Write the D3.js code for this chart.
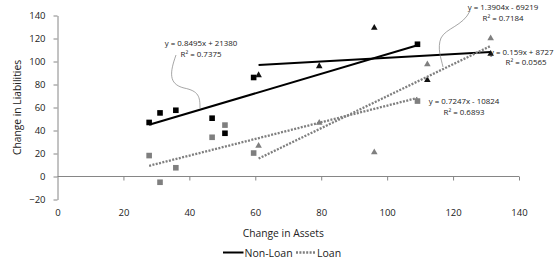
<!DOCTYPE html>
<html><head><meta charset="utf-8">
<script src="https://cdn.jsdelivr.net/npm/d3@7"></script>
<style>body{margin:0;background:#fff}svg{display:block}text{font-family:"Open Sans",sans-serif;fill:#222}</style>
</head><body><div id="chart"></div>
<script>
// Data (Change in Assets vs Change in Liabilities, thousands)
const nonLoanSqX = [27.8, 31.1, 35.9, 46.9, 50.8, 59.5, 109.2];
const nonLoanSqY = [47, 55.3, 57.6, 50.7, 37.6, 86.1, 115];
const loanSqX = [27.8, 31.1, 35.9, 46.9, 50.8, 59.5, 109.2];
const loanSqY = [18.2, -5, 7.6, 34.1, 44.7, 20.4, 65.6];
const nonLoanTriX = [61, 79.4, 96.1, 112.2, 131.4];
const nonLoanTriY = [88.4, 96.2, 129.6, 84.2, 107];
const loanTriX = [61, 79.4, 96.1, 112.2, 131.4];
const loanTriY = [27, 47, 21.3, 97.9, 120.4];
// trendline equations (raw units), as labelled in chart
const trendSlopes = [0.8495, 0.159, 0.7247, 1.3904];
const trendIntercepts = [21380, 87270, -10824, -69219];
const trendEq = ["y = 0.8495x + 21380", "y = 0.159x + 8727", "y = 0.7247x - 10824", "y = 1.3904x - 69219"];
const trendR2 = ["R² = 0.7375", "R² = 0.0565", "R² = 0.6893", "R² = 0.7184"];
const xTicks = [0, 20, 40, 60, 80, 100, 120, 140];
const yTicks = [-20, 0, 20, 40, 60, 80, 100, 120, 140];
const legendLabels = ["Non-Loan", "Loan"];

const W = 554, H = 260;
const svg = d3.select("#chart").append("svg").attr("width", W).attr("height", H);
const x = d3.scaleLinear().domain([0, 140]).range([57.5, 519]);
const y = d3.scaleLinear().domain([-20, 140]).range([199.5, 15.5]);
const axisCol = "#868686";

// Y axis
const ya = svg.append("g").attr("transform", `translate(${x(0)},0)`)
  .call(d3.axisLeft(y).tickValues(yTicks).tickSize(4).tickSizeOuter(0).tickPadding(8));
ya.selectAll("path,line").attr("stroke", axisCol);
ya.selectAll("text").attr("font-size", 9.5).attr("font-family", "Open Sans").attr("fill", "#222");

// X axis at y=0
const xa = svg.append("g").attr("transform", `translate(0,${y(0)})`)
  .call(d3.axisBottom(x).tickValues(xTicks.slice(1)).tickSize(4).tickSizeOuter(0).tickFormat(""));
xa.selectAll("path,line").attr("stroke", axisCol);
xa.select("path").attr("d", `M${x(0)},0H${x(140)}`);
// X labels at bottom
const xl = svg.append("g").attr("transform", `translate(0,${y(-20)})`)
  .call(d3.axisBottom(x).tickValues(xTicks).tickSize(0).tickPadding(10));
xl.select("path").remove();
xl.selectAll("text").attr("font-size", 9.5).attr("font-family", "Open Sans").attr("fill", "#222");

// Axis titles
svg.append("text").attr("x", (x(0) + x(140)) / 2 - 5).attr("y", 237).attr("text-anchor", "middle")
  .attr("font-size", 10.3).text("Change in Assets");
svg.append("text").attr("transform", `translate(21,${(y(-20) + y(140)) / 2}) rotate(-90)`)
  .attr("text-anchor", "middle").attr("font-size", 10.3).text("Change in Liabilities");

const series = [
  {xs: nonLoanSqX, ys: nonLoanSqY, col: "#000", shape: "sq", ti: 0, dotted: false, mcol: "#000"},
  {xs: nonLoanTriX, ys: nonLoanTriY, col: "#000", shape: "tri", ti: 1, dotted: false, mcol: "#111"},
  {xs: loanSqX, ys: loanSqY, col: "#7f7f7f", shape: "sq", ti: 2, dotted: true, mcol: "#7f7f7f"},
  {xs: loanTriX, ys: loanTriY, col: "#7f7f7f", shape: "tri", ti: 3, dotted: true, mcol: "#7f7f7f"}
];

// markers
series.forEach(s => {
  const pts = s.xs.map((v, i) => [v, s.ys[i]]);
  const g = svg.append("g");
  if (s.shape === "sq") {
    g.selectAll("rect").data(pts).join("rect")
      .attr("x", d => x(d[0]) - 2.8).attr("y", d => y(d[1]) - 2.8)
      .attr("width", 5.6).attr("height", 5.6).attr("fill", s.mcol);
  } else {
    g.selectAll("path").data(pts).join("path")
      .attr("d", d => `M${x(d[0])},${y(d[1]) - 3.5}L${x(d[0]) + 3.3},${y(d[1]) + 2.3}L${x(d[0]) - 3.3},${y(d[1]) + 2.3}Z`)
      .attr("fill", s.mcol);
  }
});

// trend lines
series.forEach(s => {
  const x0 = d3.min(s.xs), x1 = d3.max(s.xs);
  const f = v => trendSlopes[s.ti] * v + trendIntercepts[s.ti] / 1000;
  const line = svg.append("line")
    .attr("x1", x(x0)).attr("y1", y(f(x0))).attr("x2", x(x1)).attr("y2", y(f(x1)))
    .attr("stroke", s.col);
  if (s.dotted) line.attr("stroke-width", 2.3).attr("stroke-dasharray", "2,1.4");
  else line.attr("stroke-width", 2);
});

// trend labels
const labelPos = [[201, 45.5, 201, 56.5], [490, 54.5, 526, 64.5], [464, 103.5, 464, 114.5], [503, 10, 503, 21]];
labelPos.forEach((p, i) => {
  const ta = i === 1 ? "start" : "middle";
  svg.append("text").attr("x", p[0]).attr("y", p[1]).attr("text-anchor", ta).attr("font-size", 7.9).text(trendEq[i]);
  svg.append("text").attr("x", p[2]).attr("y", p[3]).attr("text-anchor", "middle").attr("font-size", 7.9).text(trendR2[i]);
});
// leader curves
svg.append("path").attr("d", "M176,55 C170,72 168,84 184,88 C199,91 200,97 200,108")
  .attr("fill", "none").attr("stroke", "#7f7f7f").attr("stroke-width", 0.7);
svg.append("path").attr("d", "M470,11 C463,26 446,28 441,38 C437,48 441,58 443,67")
  .attr("fill", "none").attr("stroke", "#7f7f7f").attr("stroke-width", 0.7);

// legend
const lg = svg.append("g");
lg.append("line").attr("x1", 223).attr("x2", 243.5).attr("y1", 252.5).attr("y2", 252.5).attr("stroke", "#000").attr("stroke-width", 2);
lg.append("text").attr("x", 244.5).attr("y", 256.5).attr("font-size", 10.5).text(legendLabels[0]);
lg.append("line").attr("x1", 296).attr("x2", 316).attr("y1", 252.5).attr("y2", 252.5).attr("stroke", "#7f7f7f").attr("stroke-width", 2.3).attr("stroke-dasharray", "2,1.4");
lg.append("text").attr("x", 317).attr("y", 256.5).attr("font-size", 10.5).text(legendLabels[1]);
</script></body></html>
